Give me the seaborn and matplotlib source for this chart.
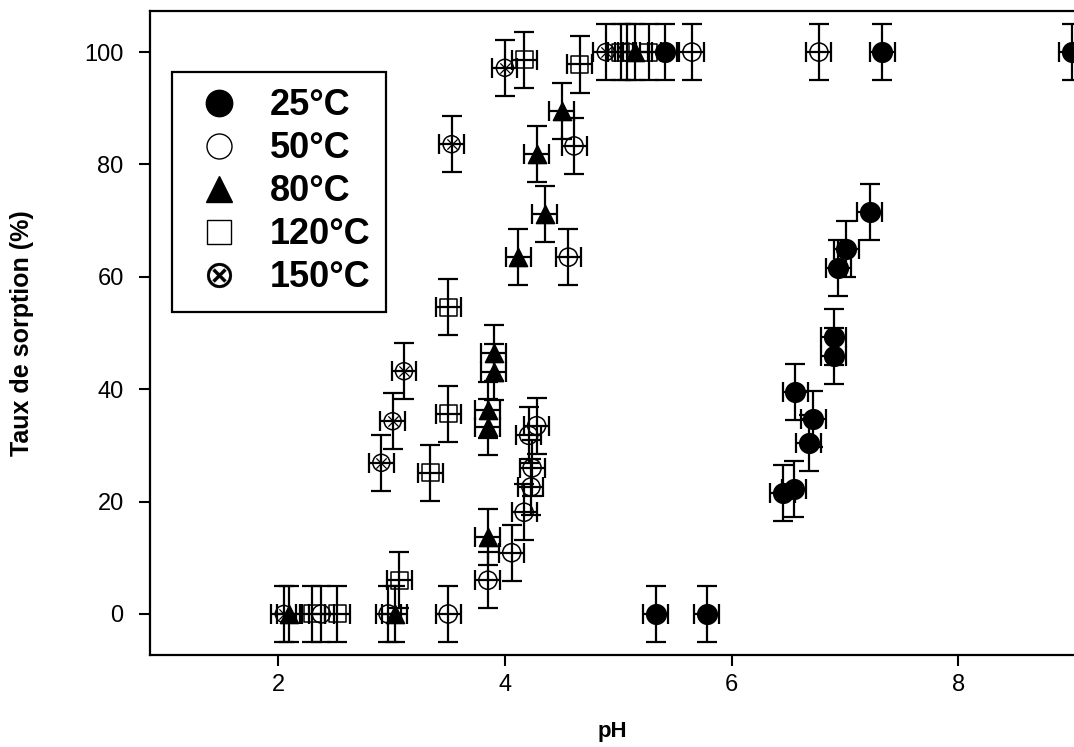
import matplotlib
matplotlib.use("Agg")
import matplotlib.pyplot as plt
from matplotlib.lines import Line2D
import numpy as np
import pandas as pd
import seaborn as sns

# Sorption data: pH vs sorption rate (%)
ph_25 = [5.33, 5.78, 6.45, 6.55, 6.68, 6.72, 6.56, 6.90, 6.90, 6.94, 7.01, 7.22, 5.41, 7.33, 9.00]
taux_25 = [0, 0, 21.5, 22.2, 30.4, 34.7, 39.5, 45.9, 49.3, 61.6, 65.0, 71.5, 100, 100, 100]

ph_50 = [2.38, 2.97, 3.50, 3.85, 4.06, 4.17, 4.23, 4.24, 4.21, 4.28, 4.56, 4.61, 5.08, 5.65, 6.77]
taux_50 = [0, 0, 0, 6.0, 10.9, 18.1, 22.6, 26.0, 31.8, 33.5, 63.5, 83.3, 100, 100, 100]

ph_80 = [2.10, 3.03, 3.85, 3.85, 3.85, 3.90, 3.90, 4.12, 4.35, 4.28, 4.50, 5.15]
taux_80 = [0, 0, 13.7, 33.3, 36.3, 43.1, 46.4, 63.5, 71.2, 81.8, 89.5, 100]

ph_120 = [2.30, 2.52, 3.07, 3.34, 3.50, 3.50, 4.17, 4.66, 5.02, 5.27]
taux_120 = [0, 0, 6.0, 25.1, 35.6, 54.6, 98.6, 97.8, 100, 100]

ph_150 = [2.05, 2.91, 3.01, 3.11, 3.53, 4.00, 4.89]
taux_150 = [0, 26.9, 34.3, 43.2, 83.6, 97.2, 100]

labels = ["25°C", "50°C", "80°C", "120°C", "150°C"]
err_ph = 0.11
err_taux = 5

df = pd.concat([
    pd.DataFrame({"pH": ph_25, "taux": taux_25, "temp": labels[0]}),
    pd.DataFrame({"pH": ph_50, "taux": taux_50, "temp": labels[1]}),
    pd.DataFrame({"pH": ph_80, "taux": taux_80, "temp": labels[2]}),
    pd.DataFrame({"pH": ph_120, "taux": taux_120, "temp": labels[3]}),
    pd.DataFrame({"pH": ph_150, "taux": taux_150, "temp": labels[4]}),
], ignore_index=True)

sns.set_theme(style="ticks")
plt.rcParams["font.family"] = ["Liberation Sans", "DejaVu Sans"]
plt.rcParams["text.color"] = "black"
plt.rcParams["axes.labelcolor"] = "black"

# marker, size, facecolor per series
styles = {
    "25°C": ("o", 200, "black"),
    "50°C": ("o", 170, "none"),
    "80°C": ("^", 170, "black"),
    "120°C": ("s", 150, "none"),
    "150°C": ("o", 150, "none"),
}

fig = plt.figure(figsize=(10.74, 7.47), dpi=100)
ax = fig.add_axes([0.1397, 0.1232, 0.8603, 0.862])

for temp in labels:
    sub = df[df["temp"] == temp]
    ax.errorbar(sub["pH"], sub["taux"], xerr=err_ph, yerr=err_taux, fmt="none",
                ecolor="black", elinewidth=1.6, capsize=7, capthick=1.6, zorder=2)
    marker, size, fc = styles[temp]
    sns.scatterplot(x=sub["pH"], y=sub["taux"], marker=marker, s=size,
                    facecolor=fc, edgecolor="black", linewidth=1.1,
                    ax=ax, zorder=3, legend=False)
    if temp == "150°C":
        # cross inside the circle
        sns.scatterplot(x=sub["pH"], y=sub["taux"], marker="x", s=55,
                        color="black", linewidth=0.9, ax=ax, zorder=4, legend=False)

ax.set_xlim(0.87, 9.02)
ax.set_ylim(-7.3, 107.3)
ax.set_xticks([2, 4, 6, 8])
ax.set_yticks([0, 20, 40, 60, 80, 100])
ax.tick_params(axis="both", direction="out", length=8, width=1.5, labelsize=17,
               colors="black")
ax.tick_params(axis="y", pad=11)
ax.tick_params(axis="x", pad=6)
for side in ["left", "bottom", "top"]:
    ax.spines[side].set_linewidth(1.6)
    ax.spines[side].set_color("black")
ax.spines["right"].set_visible(False)

ax.set_xlabel("pH", fontsize=16, fontweight="bold", labelpad=18)
ax.set_ylabel("Taux de sorption (%)", fontsize=18, fontweight="bold", labelpad=36)

# legend with circled-cross marker for 150°C
handles = [
    Line2D([], [], marker="o", ls="none", ms=19, mfc="black", mec="black"),
    Line2D([], [], marker="o", ls="none", ms=18, mfc="white", mec="black", mew=1.0),
    Line2D([], [], marker="^", ls="none", ms=19, mfc="black", mec="black"),
    Line2D([], [], marker="s", ls="none", ms=17, mfc="white", mec="black", mew=1.0),
    Line2D([], [], marker="$\\otimes$", ls="none", ms=18, mfc="black", mec="black", mew=0.2),
]
leg = ax.legend(handles, labels, loc="upper left", bbox_to_anchor=(0.0238, 0.905),
                prop={"weight": "bold", "size": 26}, frameon=True, fancybox=False,
                handletextpad=0.55, labelspacing=0.22, borderpad=0.45, handlelength=1.7,
                borderaxespad=0)
leg.get_frame().set_edgecolor("black")
leg.get_frame().set_linewidth(1.6)
leg.get_frame().set_alpha(1)

fig.savefig("out.png", dpi=100)
